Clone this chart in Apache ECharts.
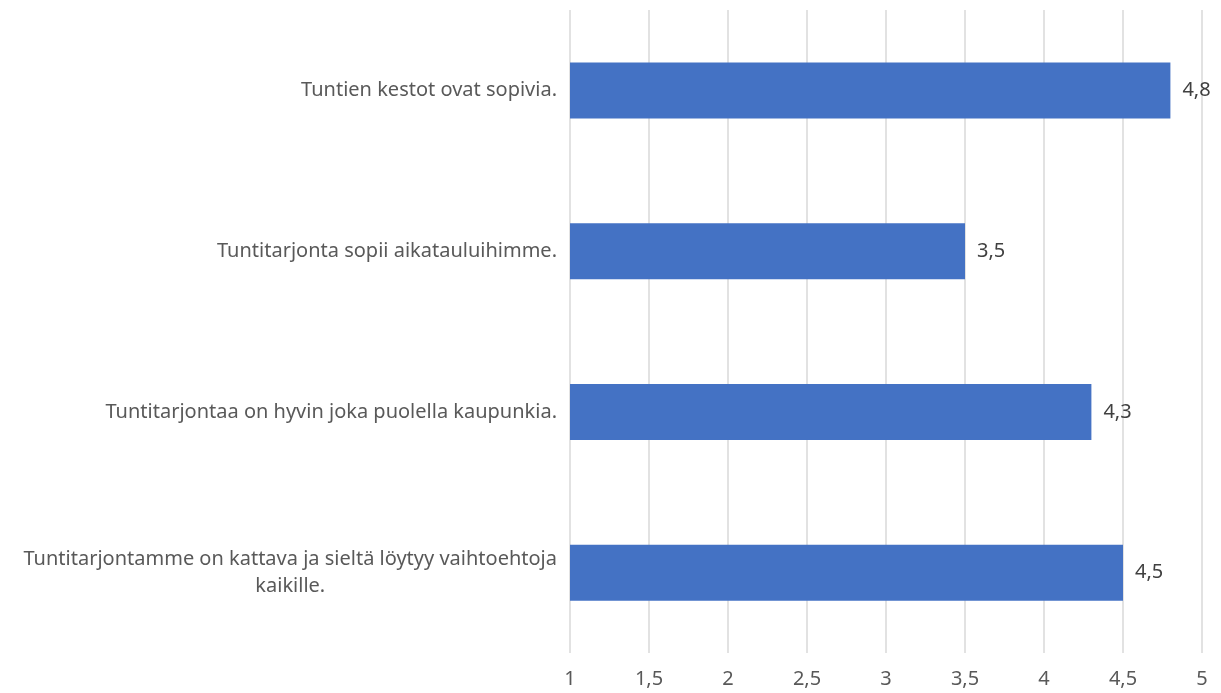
<!DOCTYPE html>
<html>
<head>
<meta charset="utf-8">
<script src="https://cdn.jsdelivr.net/npm/echarts@6/dist/echarts.min.js"></script>
<style>
  html, body { margin: 0; padding: 0; background: #fff; }
  #chart { width: 1221px; height: 693px; }
</style>
</head>
<body>
<div id="chart"></div>
<script>
// kysymykset ylhäältä alas
var categories = [
  'Tuntien kestot ovat sopivia.',
  'Tuntitarjonta sopii aikatauluihimme.',
  'Tuntitarjontaa on hyvin joka puolella kaupunkia.',
  'Tuntitarjontamme on kattava ja sieltä löytyy vaihtoehtoja kaikille.'
];
var values = [4.8, 3.5, 4.3, 4.5];
var xTicks = [1, 1.5, 2, 2.5, 3, 3.5, 4, 4.5, 5];

var font = '"Noto Sans", sans-serif';
var comma = function (v) { return String(v).replace('.', ','); };

var chart = echarts.init(document.getElementById('chart'));
chart.setOption({
  animation: false,
  grid: { left: 570, right: 19, top: 10, bottom: 40, containLabel: false },
  xAxis: {
    type: 'value',
    min: xTicks[0],
    max: xTicks[xTicks.length - 1],
    interval: 0.5,
    axisLine: { show: false },
    axisTick: { show: false },
    splitLine: { lineStyle: { color: '#d9d9d9', width: 1.5 } },
    axisLabel: {
      color: '#595959', fontSize: 20, fontFamily: font, margin: 16,
      formatter: comma
    }
  },
  yAxis: {
    type: 'category',
    inverse: true,
    data: categories,
    axisLine: { show: false },
    axisTick: { show: false },
    axisLabel: {
      color: '#595959', fontSize: 20, fontFamily: font, margin: 13,
      formatter: function (v) {
        if (v.length < 60) return v;
        var i = v.lastIndexOf(' ');
        return '{c|' + v.slice(0, i) + '}\n{c|' + v.slice(i + 1) + '}';
      },
      rich: {
        c: { align: 'center', color: '#595959', fontSize: 20, fontFamily: font, lineHeight: 27 }
      }
    }
  },
  series: [{
    type: 'bar',
    data: values,
    barWidth: 56,
    itemStyle: { color: '#4472c4' },
    label: {
      show: true, position: 'right', distance: 12,
      color: '#404040', fontSize: 20, fontFamily: font,
      formatter: function (p) { return comma(p.value); }
    }
  }]
});
</script>
</body>
</html>
